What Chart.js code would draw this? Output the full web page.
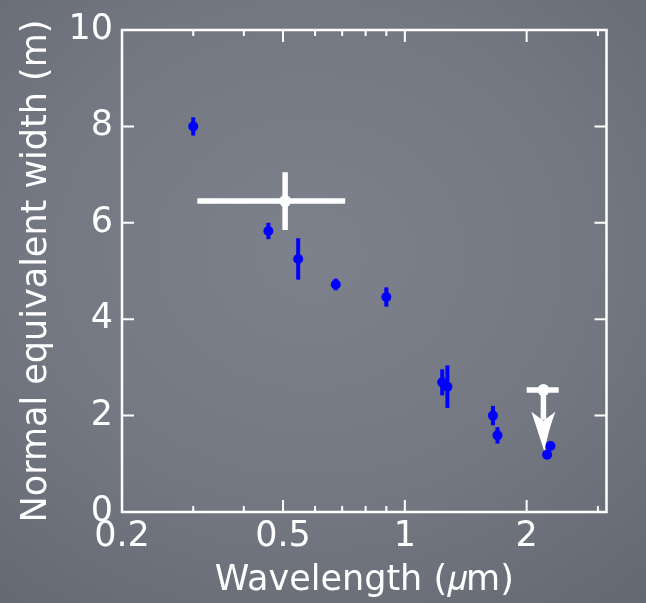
<!DOCTYPE html>
<html>
<head>
<meta charset="utf-8">
<script src="https://cdn.jsdelivr.net/npm/chart.js@4.4.1/dist/chart.umd.min.js"></script>
<style>
  html, body { margin: 0; padding: 0; }
  body {
    width: 646px; height: 603px; overflow: hidden;
    background: radial-gradient(ellipse 85% 80% at 48% 42%, #7d818b 0%, #747882 50%, #62666f 100%);
  }
  canvas { display: block; }
</style>
</head>
<body>
<canvas id="chart" width="646" height="603"></canvas>
<script>
// blue measurements
const wavelength = [0.30, 0.46, 0.545, 0.675, 0.90, 1.237, 1.274, 1.651, 1.694, 2.29, 2.247];
const eqWidth    = [8.0, 5.83, 5.25, 4.72, 4.46, 2.69, 2.60, 2.0, 1.59, 1.37, 1.19];
const eqWidthErr = [0.19, 0.17, 0.43, 0.12, 0.2, 0.27, 0.44, 0.2, 0.17, 0.05, 0.05];

// white point with x and y error bars
const whiteX = [0.506];
const whiteY = [6.45];
const whiteXLow = [0.307];
const whiteXHigh = [0.712];
const whiteYErr = [0.6];

// white upper limit
const limitX = [2.2];
const limitY = [2.53];
const limitXLow = [2.0];
const limitXHigh = [2.4];
const limitTo = [1.25];

const xTicks = [0.2, 0.5, 1, 2];
const xMinorTicks = [0.3, 0.4, 0.6, 0.7, 0.8, 0.9, 3];
const yTicks = [0, 2, 4, 6, 8, 10];

const blue = '#0000ff';
const white = '#ffffff';
const font = { family: '"DejaVu Sans", "Liberation Sans", sans-serif', size: 35 };

const overlay = {
    id: 'overlay',
    beforeDatasetsDraw(chart) {
        const { ctx, scales: { x, y } } = chart;
        ctx.save();
        ctx.lineCap = 'butt';

        ctx.strokeStyle = blue;
        ctx.lineWidth = 4;
        wavelength.forEach((w, i) => {
            const px = x.getPixelForValue(w);
            ctx.beginPath();
            ctx.moveTo(px, y.getPixelForValue(eqWidth[i] - eqWidthErr[i]));
            ctx.lineTo(px, y.getPixelForValue(eqWidth[i] + eqWidthErr[i]));
            ctx.stroke();
        });

        ctx.strokeStyle = white;
        ctx.lineWidth = 5.5;
        whiteX.forEach((w, i) => {
            const px = x.getPixelForValue(w);
            const py = y.getPixelForValue(whiteY[i]);
            ctx.beginPath();
            ctx.moveTo(x.getPixelForValue(whiteXLow[i]), py);
            ctx.lineTo(x.getPixelForValue(whiteXHigh[i]), py);
            ctx.moveTo(px, y.getPixelForValue(whiteY[i] - whiteYErr[i]));
            ctx.lineTo(px, y.getPixelForValue(whiteY[i] + whiteYErr[i]));
            ctx.stroke();
        });

        limitX.forEach((w, i) => {
            const px = x.getPixelForValue(w);
            const py = y.getPixelForValue(limitY[i]);
            const tip = y.getPixelForValue(limitTo[i]);
            ctx.strokeStyle = white;
            ctx.lineWidth = 5.5;
            ctx.beginPath();
            ctx.moveTo(x.getPixelForValue(limitXLow[i]), py);
            ctx.lineTo(x.getPixelForValue(limitXHigh[i]), py);
            ctx.moveTo(px, py);
            ctx.lineTo(px, tip - 32);
            ctx.stroke();
            ctx.fillStyle = white;
            ctx.beginPath();
            ctx.moveTo(px + 1, tip);
            ctx.lineTo(px - 12, tip - 40);
            ctx.lineTo(px, tip - 31);
            ctx.lineTo(px + 12, tip - 40);
            ctx.quadraticCurveTo(px + 5, tip - 22, px + 1, tip);
            ctx.closePath();
            ctx.fill();
        });
        ctx.restore();
    },
    afterDraw(chart) {
        const { ctx, chartArea: a, scales: { x, y } } = chart;
        ctx.save();
        ctx.strokeStyle = white;
        ctx.lineWidth = 2;
        ctx.beginPath();
        xTicks.concat(xMinorTicks).forEach(v => {
            const px = x.getPixelForValue(v);
            if (px <= a.left + 2 || px >= a.right - 2) return;
            const len = xTicks.includes(v) ? 12 : 6;
            ctx.moveTo(px, a.bottom);
            ctx.lineTo(px, a.bottom - len);
            ctx.moveTo(px, a.top);
            ctx.lineTo(px, a.top + len);
        });
        yTicks.forEach(v => {
            const py = y.getPixelForValue(v);
            if (py <= a.top + 2 || py >= a.bottom - 2) return;
            ctx.moveTo(a.left, py);
            ctx.lineTo(a.left + 12, py);
            ctx.moveTo(a.right, py);
            ctx.lineTo(a.right - 12, py);
        });
        ctx.stroke();
        ctx.lineWidth = 2.5;
        ctx.strokeRect(a.left, a.top, a.right - a.left, a.bottom - a.top);
        ctx.restore();
    }
};

new Chart(document.getElementById('chart').getContext('2d'), {
    type: 'scatter',
    data: {
        datasets: [
            {
                label: 'measurements',
                data: wavelength.map((w, i) => ({ x: w, y: eqWidth[i] })),
                backgroundColor: blue,
                borderColor: blue,
                borderWidth: 0,
                pointRadius: 5
            },
            {
                label: 'white',
                data: whiteX.map((w, i) => ({ x: w, y: whiteY[i] })),
                backgroundColor: white,
                borderWidth: 0,
                pointRadius: 6
            },
            {
                label: 'limit',
                data: limitX.map((w, i) => ({ x: w, y: limitY[i] })),
                backgroundColor: white,
                borderWidth: 0,
                pointRadius: 6
            }
        ]
    },
    options: {
        responsive: false,
        animation: false,
        layout: { padding: { top: 28, right: 39.5, left: 0, bottom: 0 } },
        plugins: { legend: { display: false }, tooltip: { enabled: false } },
        scales: {
            x: {
                type: 'logarithmic',
                min: 0.2,
                max: 3.15,
                afterBuildTicks: s => { s.ticks = xTicks.map(v => ({ value: v })); },
                afterFit: s => { s.height = 91; },
                ticks: {
                    callback: v => String(v),
                    color: white, font: font, padding: 4,
                    autoSkip: false, maxRotation: 0
                },
                grid: { display: false, drawTicks: false },
                border: { display: false },
                title: {
                    display: true, text: 'Wavelength (\u{1D707}m)', color: white, font: font,
                    padding: { top: 0, bottom: 1 }
                }
            },
            y: {
                min: 0,
                max: 10,
                afterBuildTicks: s => { s.ticks = yTicks.map(v => ({ value: v })); },
                afterFit: s => { s.width = 122; },
                ticks: { color: white, font: font, padding: 9 },
                grid: { display: false, drawTicks: false },
                border: { display: false },
                title: {
                    display: true, text: 'Normal equivalent width (m)', color: white, font: font,
                    padding: { top: 16, bottom: 0 }
                }
            }
        }
    },
    plugins: [overlay]
});
</script>
</body>
</html>
